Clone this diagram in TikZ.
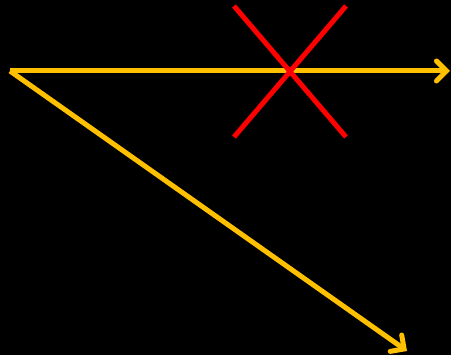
\documentclass[tikz,border=0pt]{standalone}
\usetikzlibrary{arrows.meta}
\definecolor{arrowyellow}{HTML}{FFC000}
\definecolor{crossred}{HTML}{FF0000}
\begin{document}
\begin{tikzpicture}[x=1pt,y=-1pt,
  ray/.style={draw=arrowyellow,line width=5pt,-{Straight Barb[length=10pt,width=20pt,line cap=round]}},
  crossline/.style={draw=crossred,line width=5pt}]
\fill[black] (0,0) rectangle (451,355);
\useasboundingbox (0,0) rectangle (451,355);
\coordinate (O) at (10,71);
\coordinate (H) at (450,71);
\coordinate (D) at (407,351);
\coordinate (A1) at (234,6);
\coordinate (A2) at (346,137);
\coordinate (B1) at (346,6);
\coordinate (B2) at (234,137);
\draw[ray] (O) -- (H);
\draw[ray] (O) -- (D);
\draw[crossline] (A1) -- (A2);
\draw[crossline] (B1) -- (B2);
\end{tikzpicture}
\end{document}
